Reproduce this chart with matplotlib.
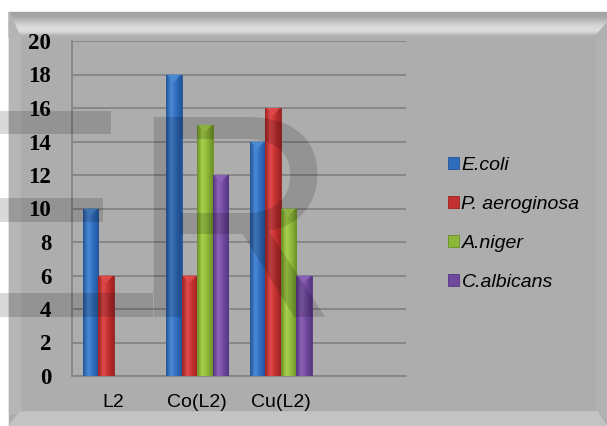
import numpy as np
import matplotlib.pyplot as plt
from matplotlib.colors import LinearSegmentedColormap
from matplotlib.patches import Rectangle, Polygon

# chart data
categories = ["L2", "Co(L2)", "Cu(L2)"]
series = ["E.coli", "P. aeroginosa", "A.niger", "C.albicans"]
ecoli = [10, 18, 14]
p_aero = [6, 6, 16]
a_niger = [0, 15, 10]
c_alb = [0, 12, 6]
yticks = list(range(0, 21, 2))

values = [ecoli, p_aero, a_niger, c_alb]
# (dark, light, mid) per series
shades = [("#23549a", "#4a8ad6", "#2f6cbc"),
          ("#9c2222", "#e04a4a", "#c23030"),
          ("#6d8f26", "#a8d24c", "#8cb83a"),
          ("#553581", "#8c62b8", "#70499e")]

W, H = 607, 426
fig = plt.figure(figsize=(W / 100, H / 100), dpi=100, facecolor="white")

# background frame drawn in pixel coordinates
bg = fig.add_axes([0, 0, 1, 1], zorder=-5)
bg.set_xlim(0, W)
bg.set_ylim(H, 0)
bg.axis("off")
base = "#adadad"
bg.add_patch(Rectangle((9, 12), W - 9, H - 12, color=base))
# top bevel gradient
top = np.array([0.64, 0.65, 0.66, 0.68, 0.72, 0.76, 0.80, 0.83, 0.855, 0.865, 0.86, 0.82, 0.74, 0.69])
bg.imshow(np.tile(top[:, None], (1, 2)), cmap="gray", vmin=0, vmax=1,
          extent=(9, W, 37, 12), aspect="auto", interpolation="bilinear", zorder=1)
bg.add_patch(Polygon([(9, 12), (20, 37), (9, 37)], color="#b4b4b4", zorder=2))
bg.add_patch(Polygon([(W, 22), (W, 37), (594, 37)], color="#b0b0b0", zorder=2))
# left, bottom, right bevels
bg.add_patch(Rectangle((9, 37), 11, 376, color="#b6b6b6", zorder=1))
bg.add_patch(Polygon([(9, H), (20, 412), (597, 412), (W, H)], color="#c3c3c3", zorder=2))
bg.add_patch(Polygon([(W, 30), (597, 37), (597, 412), (W, 420)], color="#b2b2b2", zorder=1))

ax = fig.add_axes([72 / W, 1 - 376 / H, 334 / W, 335 / H])
ax.set_facecolor("none")

x = np.arange(len(categories))
w = 0.186
handles = []
for i, (vals, (dk, lt, md)) in enumerate(zip(values, shades)):
    bars = ax.bar(x + (i - 1.5) * w, vals, w, color=md, edgecolor=dk, lw=0.6,
                  label=series[i], zorder=3)
    handles.append(bars)
    cmap = LinearSegmentedColormap.from_list("b%d" % i, [dk, lt, md, dk])
    grad = np.linspace(0, 1, 64)[None, :]
    for b, v in zip(bars, vals):
        if v <= 0:
            continue
        x0 = b.get_x()
        im = ax.imshow(grad, cmap=cmap, extent=(x0, x0 + w, 0, v), aspect="auto",
                       interpolation="bilinear", zorder=3.5)
        im.set_clip_path(b)
        ax.add_patch(Polygon([(x0 + 0.01, v), (x0 + w - 0.01, v), (x0 + w / 2, v - 0.45)],
                             color=lt, alpha=0.9, lw=0, zorder=4))

ax.set_xlim(-0.5, 3.5)
ax.set_ylim(0, 20)
ax.set_yticks(yticks, labels=[str(v) for v in yticks], family="Liberation Serif",
              fontweight="bold", fontsize=16.5)
ax.set_xticks(x, labels=categories, fontsize=14, family="Liberation Sans")
ax.yaxis.grid(True, color="#858585", lw=1.3)
ax.set_axisbelow(True)
for s in ["top", "right"]:
    ax.spines[s].set_visible(False)
for s in ["left", "bottom"]:
    ax.spines[s].set_color("#858585")
    ax.spines[s].set_linewidth(1.3)
ax.tick_params(length=0)
ax.tick_params(axis="y", pad=15)
ax.tick_params(axis="x", pad=13)

leg = ax.legend(handles=handles, loc="center left", bbox_to_anchor=(1.073, 0.455),
                frameon=False, prop={"family": "Liberation Sans", "style": "italic", "size": 14},
                handlelength=0.55, handleheight=0.55, handletextpad=0.15, labelspacing=1.13)

# watermark overlay
wm = fig.add_axes([0, 0, 1, 1], zorder=10)
wm.set_facecolor("none")
wm.set_xlim(0, W)
wm.set_ylim(H, 0)
wm.axis("off")
wm_kw = dict(color="black", alpha=0.15, lw=0)
wm.add_patch(Rectangle((0, 111), 111, 23, **wm_kw))
wm.add_patch(Rectangle((0, 198), 103, 24, **wm_kw))
wm.add_patch(Rectangle((0, 293), 153, 24, **wm_kw))
wm.text(129, 317, "R", fontsize=208, family="Liberation Sans", color="black", alpha=0.15,
        ha="left", va="baseline")

fig.savefig("out.png", dpi=100, facecolor="white")
